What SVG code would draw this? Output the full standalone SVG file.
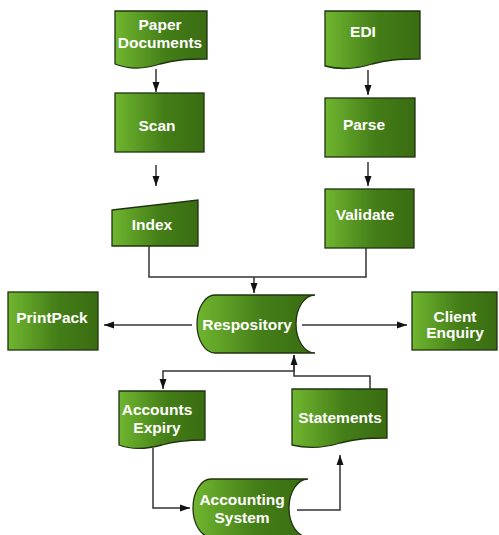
<svg xmlns="http://www.w3.org/2000/svg" width="499" height="535" viewBox="0 0 499 535">
  <defs>
    <linearGradient id="g" x1="0" y1="0" x2="1" y2="0">
      <stop offset="0" stop-color="#70b62f"/>
      <stop offset="0.55" stop-color="#447e18"/>
      <stop offset="1" stop-color="#3a6c12"/>
    </linearGradient>
    <marker id="ah" viewBox="0 0 10 10" refX="10" refY="5" markerWidth="10" markerHeight="10" markerUnits="userSpaceOnUse" orient="auto">
      <path d="M0,1.5 L10,5 L0,8.5 Z" fill="#111"/>
    </marker>
  </defs>
  <style>
    .s { fill: url(#g); stroke: #1f3310; stroke-width: 1.3; }
    .t { font-family: "Liberation Sans", Arial, sans-serif; font-weight: bold; font-size: 15.5px; fill: #ffffff; text-anchor: middle; }
    .c { fill: none; stroke: #333333; stroke-width: 1.5; }
    .a { marker-end: url(#ah); }
  </style>
  <rect width="499" height="535" fill="#ffffff"/>

  <g id="connectors">
    <path class="c a" d="M156,69 V92"/>
    <path class="c a" d="M156,165 V186"/>
    <path class="c a" d="M368,70 V95"/>
    <path class="c a" d="M368,162 V186"/>
    <path class="c" d="M149,246 V277 H366 V248"/>
    <path class="c a" d="M254,277 V293"/>
    <path class="c a" d="M192,325 H104"/>
    <path class="c a" d="M302,325 H407"/>
    <path class="c a" d="M294,355 V371 H163 V389"/>
    <path class="c a" d="M370,389 V376 H294 V355"/>
    <path class="c a" d="M153,448 V508 H190"/>
    <path class="c a" d="M297,510 H340 V455"/>
  </g>

  <g id="paper-documents">
    <path class="s" d="M115,11 H207 V59 C185,59 175,60 160,64 C145,69 130,70 115,64 Z"/>
    <text class="t" x="160" y="30">Paper</text>
    <text class="t" x="160" y="48">Documents</text>
  </g>
  <g id="scan">
    <rect class="s" x="115" y="93" width="89" height="59"/>
    <text class="t" x="157" y="131">Scan</text>
  </g>
  <g id="index">
    <path class="s" d="M112,210 L198,200 V246 H112 Z"/>
    <text class="t" x="152" y="230">Index</text>
  </g>
  <g id="edi">
    <path class="s" d="M325,11 H420 V59 C397,59 387,60 372,64 C356,69 340,70 325,66 Z"/>
    <text class="t" x="363" y="37">EDI</text>
  </g>
  <g id="parse">
    <rect class="s" x="325" y="98" width="90" height="59"/>
    <text class="t" x="364" y="130">Parse</text>
  </g>
  <g id="validate">
    <rect class="s" x="325" y="189" width="89" height="59"/>
    <text class="t" x="365" y="220">Validate</text>
  </g>
  <g id="repository">
    <path class="s" d="M215,295 H315 A19,29 0 0 0 315,353 H215 A18,29 0 0 1 215,295 Z"/>
    <text class="t" x="247" y="330">Respository</text>
  </g>
  <g id="printpack">
    <rect class="s" x="8" y="292" width="90" height="58"/>
    <text class="t" x="52" y="323">PrintPack</text>
  </g>
  <g id="client-enquiry">
    <rect class="s" x="412" y="292" width="85" height="58"/>
    <text class="t" x="455" y="322">Client</text>
    <text class="t" x="455" y="338">Enquiry</text>
  </g>
  <g id="accounts-expiry">
    <path class="s" d="M119,391 H205 V440 C185,440 175,441 162,445 C147,449 132,450 119,445 Z"/>
    <text class="t" x="157" y="415">Accounts</text>
    <text class="t" x="157" y="433">Expiry</text>
  </g>
  <g id="statements">
    <path class="s" d="M292,389 H387 V438 C366,438 356,439 340,443 C324,448 308,449 292,445 Z"/>
    <text class="t" x="340" y="423">Statements</text>
  </g>
  <g id="accounting-system">
    <path class="s" d="M211,479 H308 A19,29 0 0 0 308,537 H211 A18,29 0 0 1 211,479 Z"/>
    <text class="t" x="242" y="505">Accounting</text>
    <text class="t" x="242" y="523">System</text>
  </g>
</svg>
